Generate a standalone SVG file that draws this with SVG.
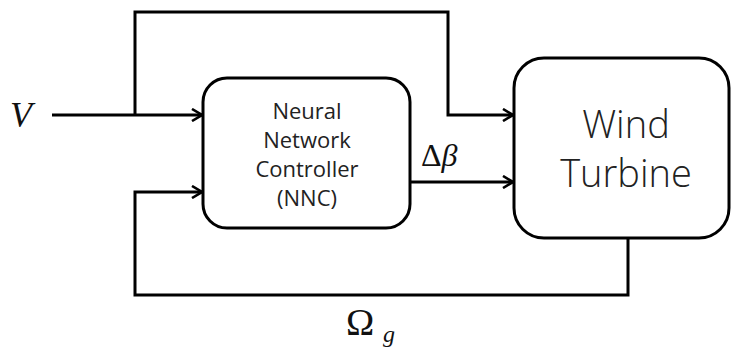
<svg xmlns="http://www.w3.org/2000/svg" width="732" height="351" viewBox="0 0 732 351">
<style>
.box{fill:#fff;stroke:#000;stroke-width:3}
.ln{fill:none;stroke:#000;stroke-width:3;stroke-linejoin:miter}
.lbl{font-family:"Open Sans","Noto Sans",sans-serif;fill:#222;text-anchor:middle}
.math{font-family:"Liberation Serif","DejaVu Serif",serif;fill:#111}
.it{font-style:italic}
.up{font-style:normal}
</style>
<defs>
<marker id="arr" viewBox="0 0 12 14" refX="11" refY="7" markerWidth="12" markerHeight="14" markerUnits="userSpaceOnUse" orient="auto">
<polyline points="1,1 11,7 1,13" fill="none" stroke="#000" stroke-width="2.6"/>
</marker>
</defs>
<rect width="732" height="351" fill="#fff"/>
<g id="connectors">
<path class="ln" d="M52 115 H202" marker-end="url(#arr)"/>
<path class="ln" d="M135 115 V12 H448 V115 H513" marker-end="url(#arr)"/>
<path class="ln" d="M411 182 H513" marker-end="url(#arr)"/>
<path class="ln" d="M628 238 V295 H135 V192 H202" marker-end="url(#arr)"/>
</g>
<g id="nnc">
<rect class="box" x="203" y="78" width="207" height="150" rx="24"/>
<text class="lbl" font-size="22"><tspan x="307" y="119">Neural</tspan><tspan x="307" y="148">Network</tspan><tspan x="307" y="177">Controller</tspan><tspan x="307" y="206">(NNC)</tspan></text>
</g>
<g id="wind-turbine">
<rect class="box" x="514" y="58" width="215" height="180" rx="30"/>
<text class="lbl" font-size="38" font-weight="300"><tspan x="626" y="138">Wind</tspan><tspan x="626" y="187">Turbine</tspan></text>
</g>
<g id="labels">
<text class="math it" x="10" y="127" font-size="36">V</text>
<text class="math" x="421" y="166" font-size="32"><tspan class="up">Δ</tspan><tspan class="it">β</tspan></text>
<text class="math up" x="346" y="335" font-size="38">Ω</text>
<text class="math it" x="383" y="342" font-size="24">g</text>
</g>
</svg>
